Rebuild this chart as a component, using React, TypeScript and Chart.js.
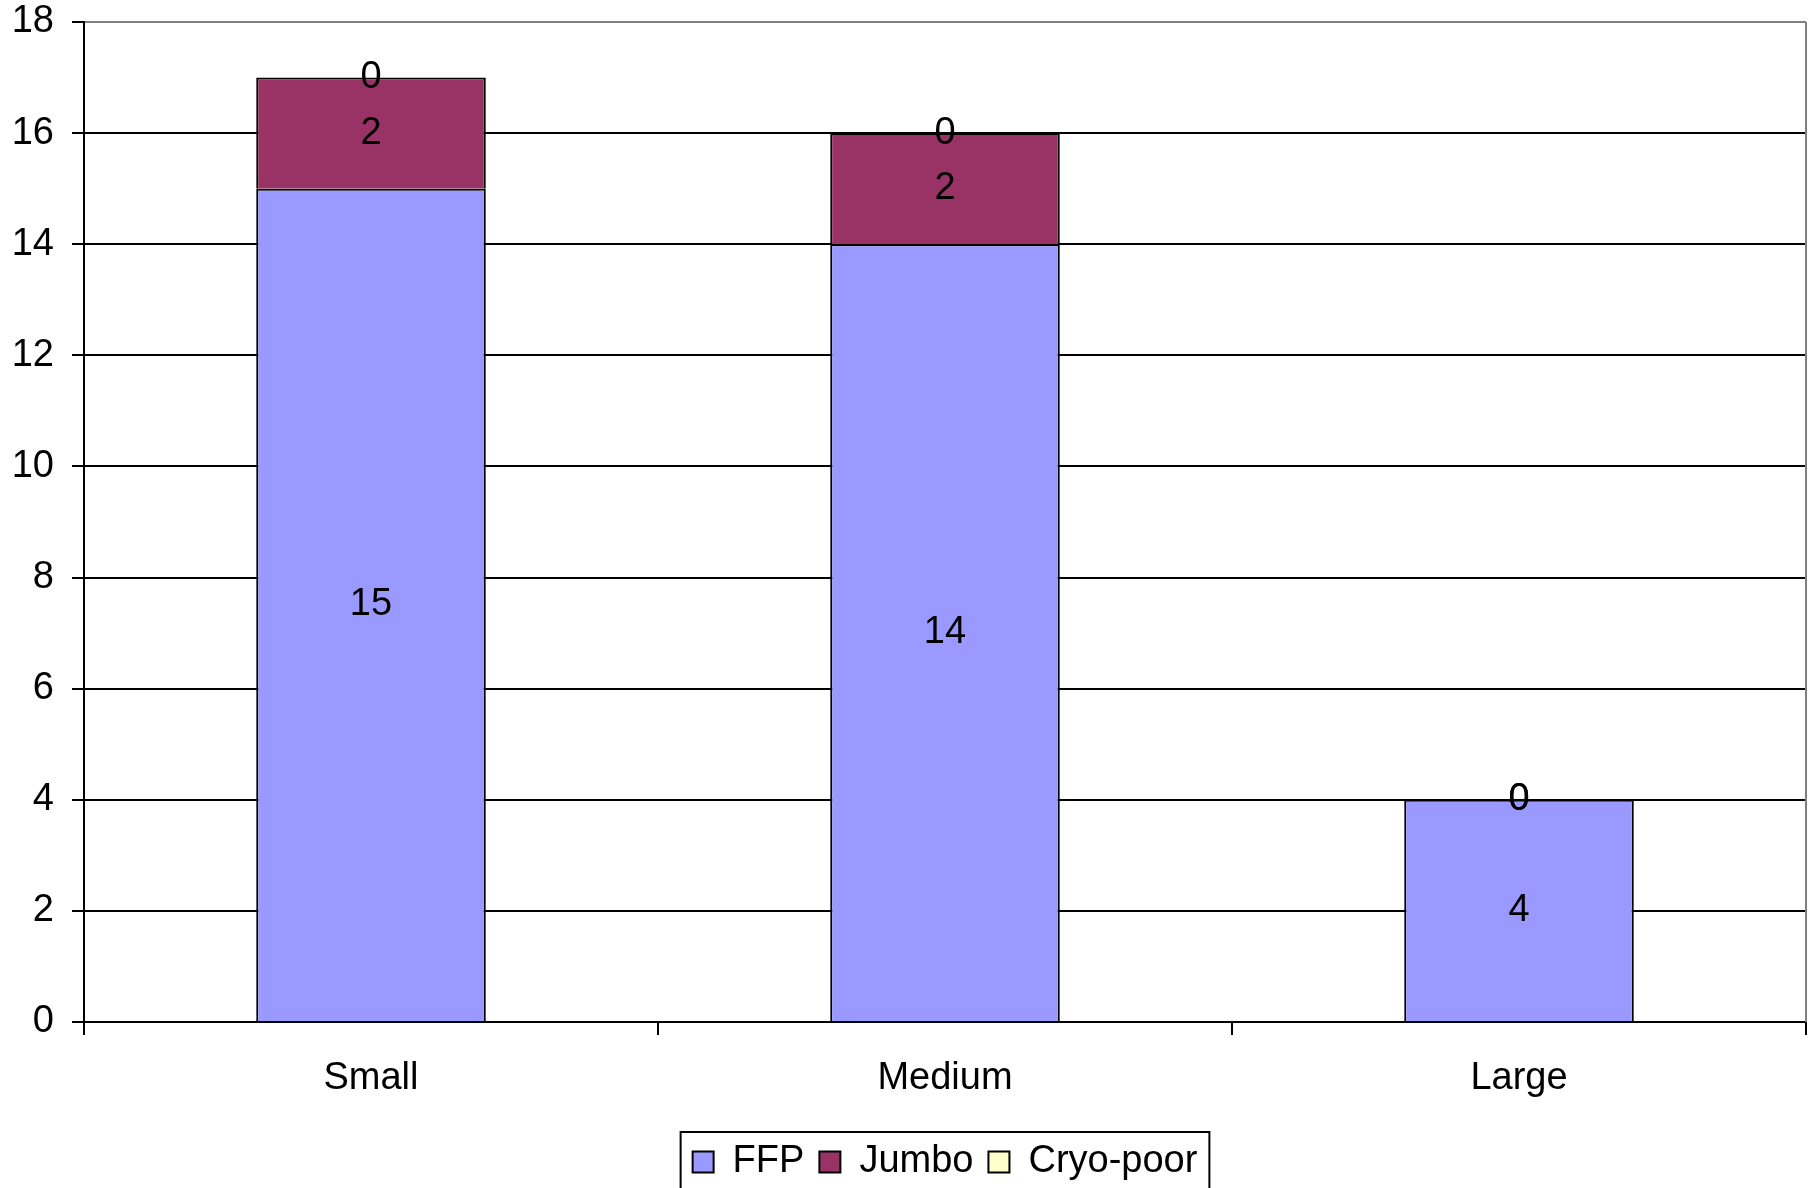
import React, { useEffect, useRef } from "react";
import { Chart, registerables } from "chart.js";

Chart.register(...registerables);

const categories = ["Small", "Medium", "Large"];
const ffpValues = [15, 14, 4];
const jumboValues = [2, 2, 0];
const cryoPoorValues = [0, 0, 0];
const seriesNames = ["FFP", "Jumbo", "Cryo-poor"];
const yMin = 0;
const yMax = 18;
const yStep = 2;

const FONT = "'Liberation Sans', Arial, Helvetica, sans-serif";
const FS = 38;
const CANVAS_W = 1812;
const CANVAS_H = 1191;

const valueLabels = {
  id: "valueLabels",
  afterDatasetsDraw(chart: any) {
    const ctx = chart.ctx;
    ctx.save();
    ctx.font = `${FS}px ${FONT}`;
    ctx.fillStyle = "#000";
    ctx.textAlign = "center";
    ctx.textBaseline = "middle";
    chart.data.datasets.forEach((ds: any, i: number) => {
      const meta = chart.getDatasetMeta(i);
      meta.data.forEach((el: any, j: number) => {
        const p = el.getProps(["x", "y", "base"], true);
        ctx.fillText(String(ds.data[j]), p.x, (p.y + p.base) / 2);
      });
    });
    ctx.restore();
  },
};

const framePlugin = {
  id: "framePlugin",
  afterDraw(chart: any) {
    const ctx = chart.ctx;
    const a = chart.chartArea;
    ctx.save();
    ctx.strokeStyle = "#808080";
    ctx.lineWidth = 2;
    ctx.beginPath();
    ctx.moveTo(a.right, a.top);
    ctx.lineTo(a.right, a.bottom);
    ctx.stroke();
    const hb = chart.legend && chart.legend.legendHitBoxes;
    if (hb && hb.length) {
      const first = hb[0];
      const last = hb[hb.length - 1];
      const left = first.left - 12;
      const right = last.left + last.width + 12;
      const top = first.top - 11;
      ctx.strokeStyle = "#000";
      ctx.lineWidth = 2;
      ctx.strokeRect(left, top, right - left, 120);
    }
    ctx.restore();
  },
};

export default function App() {
  const ref = useRef<HTMLCanvasElement | null>(null);

  useEffect(() => {
    if (!ref.current) return;
    const chart = new Chart(ref.current, {
      type: "bar",
      data: {
        labels: categories,
        datasets: [
          {
            label: seriesNames[0],
            data: ffpValues,
            backgroundColor: "#9999FF",
            borderColor: "#000",
            borderWidth: 2,
          },
          {
            label: seriesNames[1],
            data: jumboValues,
            backgroundColor: "#993366",
            borderColor: "#000",
            borderWidth: 2,
          },
          {
            label: seriesNames[2],
            data: cryoPoorValues,
            backgroundColor: "#FFFFCC",
            borderColor: "#000",
            borderWidth: 2,
          },
        ],
      },
      options: {
        responsive: false,
        animation: false,
        devicePixelRatio: 1,
        layout: { padding: { left: 0, right: 6, top: 22, bottom: 0 } },
        datasets: {
          bar: { categoryPercentage: 0.4, barPercentage: 1.0 },
        },
        scales: {
          x: {
            stacked: true,
            offset: true,
            grid: {
              display: true,
              offset: true,
              drawOnChartArea: false,
              drawTicks: true,
              tickLength: 13,
              color: "#000",
              lineWidth: 2,
            },
            border: { display: true, color: "#000", width: 2 },
            ticks: {
              color: "#000",
              font: { family: FONT, size: FS },
              padding: 21,
              maxRotation: 0,
            },
            afterFit(scale: any) {
              scale.height = 106;
              scale.paddingLeft = 0;
              scale.paddingRight = 0;
            },
          },
          y: {
            stacked: true,
            min: yMin,
            max: yMax,
            ticks: {
              stepSize: yStep,
              color: "#000",
              font: { family: FONT, size: FS },
              padding: 18,
            },
            grid: {
              color: (c: any) => (c.tick && c.tick.value === yMax ? "#808080" : "#000"),
              tickColor: "#000",
              lineWidth: 2,
              drawTicks: true,
              tickLength: 12,
            },
            border: { display: true, color: "#000", width: 2 },
            afterFit(scale: any) {
              scale.width = 84;
              scale.paddingTop = 0;
              scale.paddingBottom = 0;
            },
          },
        },
        plugins: {
          legend: {
            position: "bottom",
            fullSize: false,
            labels: {
              color: "#000",
              font: { family: FONT, size: FS },
              boxWidth: 21,
              boxHeight: 21,
              padding: 15,
            },
          },
          tooltip: { enabled: false },
        },
      },
      plugins: [valueLabels, framePlugin],
    } as any);
    return () => chart.destroy();
  }, []);

  return (
    <div
      style={{
        position: "fixed",
        left: 0,
        top: 0,
        width: CANVAS_W,
        height: 1188,
        overflow: "hidden",
        background: "#fff",
      }}
    >
      <canvas ref={ref} width={CANVAS_W} height={CANVAS_H} style={{ display: "block" }} />
    </div>
  );
}
